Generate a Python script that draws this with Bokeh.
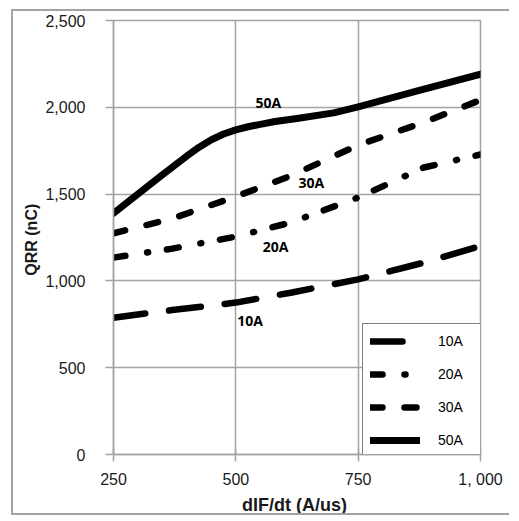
from bokeh.plotting import figure
from bokeh.models import FixedTicker, Legend, LegendItem, ColumnDataSource
from bokeh.core.properties import value
from bokeh.embed import file_html
from bokeh.resources import INLINE

# ---- data ----
didt_50 = [250, 300, 350, 400, 425, 450, 475, 500, 525, 550, 580, 625, 700, 750, 875, 1000]
qrr_50 = [1390, 1500, 1612, 1720, 1770, 1813, 1846, 1870, 1888, 1902, 1918, 1936, 1968, 2003, 2097, 2191]

didt = [250, 370, 500, 612, 750, 884, 1000]
qrr_30 = [1274, 1359, 1486, 1605, 1782, 1913, 2042]
qrr_20 = [1134, 1186, 1255, 1336, 1480, 1653, 1728]
qrr_10 = [788, 832, 875, 932, 1009, 1105, 1201]

series_names = ["10A", "20A", "30A", "50A"]

# in-chart series labels (data coordinates: left edge, middle)
label_text = ["50A", "30A", "20A", "10A"]
label_x = [540, 628, 555, 503]
label_y = [2029, 1569, 1201, 770]

x_ticks = [250, 500, 750, 1000]
x_tick_labels = ["250", "500", "750", "1, 000"]
y_ticks = [0, 500, 1000, 1500, 2000, 2500]
y_tick_labels = ["0", "500", "1,000", "1,500", "2,000", "2,500"]

GRID = "#a3a3a3"

p = figure(
    width=498, height=506,
    min_border_left=100, min_border_right=31, min_border_top=9, min_border_bottom=62,
    x_range=(250, 1000), y_range=(0, 2500),
    output_backend="svg", toolbar_location=None,
)
p.outline_line_color = GRID
p.outline_line_width = 1.5
p.background_fill_color = "white"
p.border_fill_color = "white"

# axes
for ax in (p.xaxis[0], p.yaxis[0]):
    ax.axis_line_color = GRID
    ax.axis_line_width = 1.5
    ax.major_tick_line_color = GRID
    ax.major_tick_line_width = 1.5
    ax.minor_tick_line_color = None
    ax.major_label_text_font = "Liberation Sans"
    ax.major_label_text_font_size = "16px"
    ax.major_label_text_color = "#1a1a1a"
    ax.axis_label_text_font = "Liberation Sans"
    ax.axis_label_text_font_style = "bold"
    ax.axis_label_text_color = "#1a1a1a"

p.xaxis.ticker = FixedTicker(ticks=x_ticks)
p.yaxis.ticker = FixedTicker(ticks=y_ticks)
p.xaxis.major_label_overrides = dict(zip(x_ticks, x_tick_labels))
p.yaxis.major_label_overrides = dict(zip(y_ticks, y_tick_labels))
p.xaxis.major_tick_in = 6
p.xaxis.major_tick_out = 7
p.yaxis.major_tick_in = 0
p.yaxis.major_tick_out = 8
p.xaxis.major_label_standoff = 9
p.yaxis.major_label_standoff = 20
p.xaxis.axis_label = "dIF/dt  (A/us)"
p.yaxis.axis_label = "QRR  (nC)"
p.xaxis.axis_label_text_font_size = "18px"
p.yaxis.axis_label_text_font_size = "16px"
p.xaxis.axis_label_standoff = 4
p.yaxis.axis_label_standoff = 2

p.xgrid.ticker = FixedTicker(ticks=x_ticks)
p.ygrid.ticker = FixedTicker(ticks=y_ticks)
p.xgrid.grid_line_color = GRID
p.ygrid.grid_line_color = GRID
p.xgrid.grid_line_width = 1.5
p.ygrid.grid_line_width = 1.5

W = 6.5
r10 = p.line(didt, qrr_10, line_color="black", line_width=W, line_dash="32 24", line_cap="round")
r20 = p.line(didt, qrr_20, line_color="black", line_width=W, line_dash="12 22 1 19", line_cap="round")
r30 = p.line(didt, qrr_30, line_color="black", line_width=W, line_dash="12 22", line_cap="round")
r50 = p.line(didt_50, qrr_50, line_color="black", line_width=7, line_cap="round", line_join="round")

src = ColumnDataSource(dict(x=label_x, y=label_y, t=label_text))
p.text(x="x", y="y", text="t", source=src, text_font=value("Open Sans"),
       text_font_style="bold", text_font_size="14px", text_color="black",
       text_align="left", text_baseline="middle")

legend = Legend(
    items=[LegendItem(label=n, renderers=[r]) for n, r in zip(series_names, [r10, r20, r30, r50])],
    location=(249, -4),
    padding=7, spacing=13, margin=0,
    glyph_width=50, glyph_height=20, label_height=20, label_width=36,
    label_standoff=18,
    label_text_font="Liberation Sans", label_text_font_size="14px", label_text_color="black",
    border_line_color="black", border_line_width=1.2,
    background_fill_color="white", background_fill_alpha=1.0,
)
p.add_layout(legend, "center")

# outer chart-area frame (decoration, like the spreadsheet chart border)
p.styles = {"margin-left": "11px", "margin-top": "9px",
            "border-left": "2px solid #a3a3a3", "border-top": "2px solid #a3a3a3",
            "border-bottom": "2px solid #a3a3a3"}

open("out.html", "w").write(file_html(p, INLINE))
